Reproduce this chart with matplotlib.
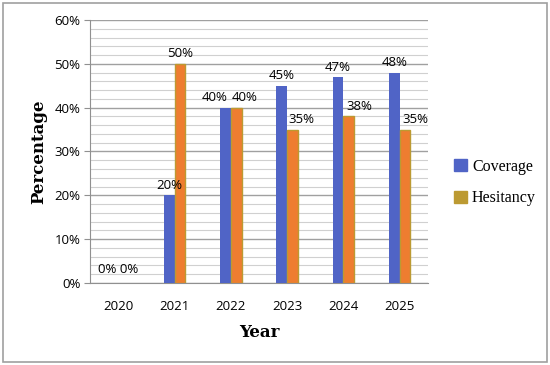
import numpy as np
import matplotlib.pyplot as plt
from matplotlib.patches import Patch, Rectangle

years = ['2020', '2021', '2022', '2023', '2024', '2025']
coverage = [0, 20, 40, 45, 47, 48]
hesitancy = [0, 50, 40, 35, 38, 35]

blue = '#5064C6'
orange = '#EE7D30'
gold = '#BC9A32'

# label nudges (in category units) so the value labels sit like the original
cov_nudge = [0, 0, -0.2, 0, 0, 0]
hes_nudge = [0, 0, 0.14, 0.15, 0.18, 0.18]

fig = plt.figure(figsize=(5.5, 3.65), dpi=100)
fig.patches.append(Rectangle((0.006, 0.008), 0.988, 0.984, transform=fig.transFigure,
                             fill=False, edgecolor='#A0A0A0', linewidth=1.2))
ax = fig.add_axes([0.164, 0.225, 0.614, 0.72])

x = np.arange(len(years))
w = 0.19
ax.bar(x - w / 2, coverage, w, color=blue, zorder=3)
hbars = ax.bar(x + w / 2, hesitancy, w, color=orange, edgecolor=gold, linewidth=1.0, zorder=3)
for b, v in zip(hbars, hesitancy):
    if v == 0:
        b.set_linewidth(0)

tick_font = 'Open Sans'
for i in range(len(years)):
    if coverage[i] == 0 and hesitancy[i] == 0:
        ax.text(x[i], 1.5, '0% 0%', ha='center', va='bottom', fontsize=9.5, family=tick_font)
        continue
    ax.text(x[i] - w / 2 + cov_nudge[i], coverage[i] + 0.8, f'{coverage[i]}%', ha='center',
            va='bottom', fontsize=9.5, family=tick_font)
    ax.text(x[i] + w / 2 + hes_nudge[i], hesitancy[i] + 0.8, f'{hesitancy[i]}%', ha='center',
            va='bottom', fontsize=9.5, family=tick_font)

ax.set_xlim(-0.5, len(years) - 0.5)
ax.set_ylim(0, 60)
ax.set_yticks(range(0, 61, 10))
ax.set_yticklabels([f'{v}%' for v in range(0, 61, 10)], family=tick_font, fontsize=9.5)
ax.set_yticks(range(0, 61, 2), minor=True)
ax.set_xticks(x)
ax.set_xticklabels(years, family=tick_font, fontsize=9.5)
ax.tick_params(axis='x', length=0, pad=12)
ax.tick_params(axis='y', which='major', length=4, color='#909090', pad=3)
ax.tick_params(axis='y', which='minor', length=0)
ax.grid(axis='y', which='major', color='#A0A0A0', linewidth=1, zorder=0)
ax.grid(axis='y', which='minor', color='#D0D0D0', linewidth=0.8, zorder=0)
for s in ['top', 'right']:
    ax.spines[s].set_visible(False)
for s in ['left', 'bottom']:
    ax.spines[s].set_color('#909090')

ax.set_ylabel('Percentage', family='DejaVu Serif', fontweight='bold', fontsize=12, labelpad=5)
ax.set_xlabel('Year', family='DejaVu Serif', fontweight='bold', fontsize=12, labelpad=8)

handles = [Patch(color=blue, label='Coverage'), Patch(color=gold, label='Hesitancy')]
fig.legend(handles=handles, loc='center left', bbox_to_anchor=(0.8, 0.5), frameon=False,
           prop={'family': 'Liberation Serif', 'size': 11.5}, handlelength=0.8,
           handleheight=0.8, handletextpad=0.3, labelspacing=1.0)

fig.savefig('out.png', dpi=100)
